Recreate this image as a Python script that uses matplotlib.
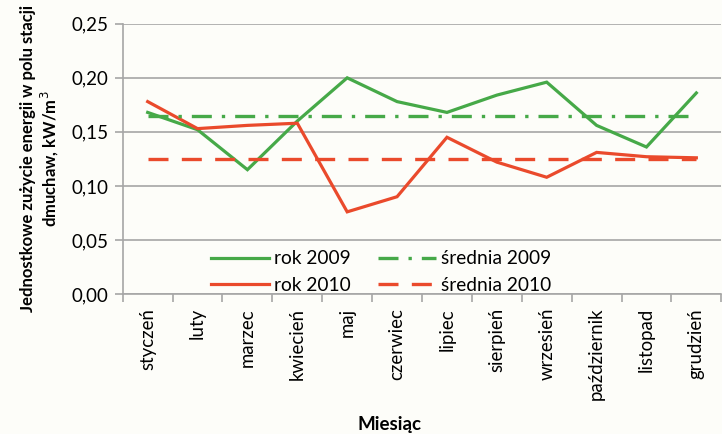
import matplotlib
matplotlib.use('Agg')
import matplotlib.pyplot as plt
import numpy as np

months = ['styczeń', 'luty', 'marzec', 'kwiecień', 'maj', 'czerwiec',
          'lipiec', 'sierpień', 'wrzesień', 'październik', 'listopad', 'grudzień']
rok_2009 = [0.168, 0.152, 0.115, 0.160, 0.200, 0.178,
            0.168, 0.184, 0.196, 0.156, 0.136, 0.186]
rok_2010 = [0.178, 0.153, 0.156, 0.158, 0.076, 0.090,
            0.145, 0.122, 0.108, 0.131, 0.127, 0.126]
srednia_2009 = [0.165] * 12
srednia_2010 = [0.125] * 12
yticks = [0.00, 0.05, 0.10, 0.15, 0.20, 0.25]

plt.rcParams['font.family'] = ['Lato', 'DejaVu Sans']

green = '#46a948'
red = '#ea4a2c'
grid = '#a6a6a6'
bg = '#fdfdf9'

fig = plt.figure(figsize=(7.22, 4.34), dpi=100, facecolor=bg)
ax = fig.add_axes([0.170, 0.3226, 0.829, 0.6226], facecolor=bg)

x = np.arange(len(months))
ax.plot(x, rok_2009, color=green, lw=2.3, label='rok 2009', solid_joinstyle='miter')
ax.plot(x, rok_2010, color=red, lw=2.3, label='rok 2010', solid_joinstyle='miter')
ax.plot(x, srednia_2009, color=green, lw=2.4, dashes=(6, 3, 1, 3), label='średnia 2009')
ax.plot(x, srednia_2010, color=red, lw=2.4, dashes=(6, 4), label='średnia 2010')

ax.set_xlim(-0.5, len(months) - 0.5)
ax.set_ylim(0, 0.25)
ax.set_yticks(yticks)
ax.set_yticklabels(['{:.2f}'.format(v).replace('.', ',') for v in yticks], fontsize=13.5)
ax.yaxis.grid(True, color=grid, lw=1.2)
ax.set_axisbelow(True)

ax.set_xticks(x)
ax.set_xticklabels(months, rotation=90, fontsize=13.4)
ax.tick_params(axis='x', length=0, pad=10)
ax.set_xticks(np.arange(-0.5, len(months)), minor=True)
ax.tick_params(axis='x', which='minor', length=6, color=grid, width=1.2)
ax.tick_params(axis='y', length=6, color=grid, width=1.2, pad=4)

for s in ['top', 'right']:
    ax.spines[s].set_visible(False)
ax.spines['left'].set_color(grid)
ax.spines['bottom'].set_color(grid)
ax.spines['left'].set_linewidth(1.2)
ax.spines['bottom'].set_linewidth(1.2)

ax.set_ylabel('Jednostkowe zużycie energii w polu stacji\ndmuchaw, kW/m$^3$',
              fontsize=12, fontweight='bold', labelpad=8, linespacing=1.15)
fig.text(0.54, 0.003, 'Miesiąc', fontsize=13.5, fontweight='bold', ha='center', va='bottom')

ax.legend(loc='lower left', bbox_to_anchor=(0.135, -0.028), ncol=2, frameon=False,
          fontsize=13.8, handlelength=3.0, handletextpad=0.3, columnspacing=1.4,
          labelspacing=0.5, borderaxespad=0)

plt.savefig('out.png', dpi=100, facecolor=bg)
